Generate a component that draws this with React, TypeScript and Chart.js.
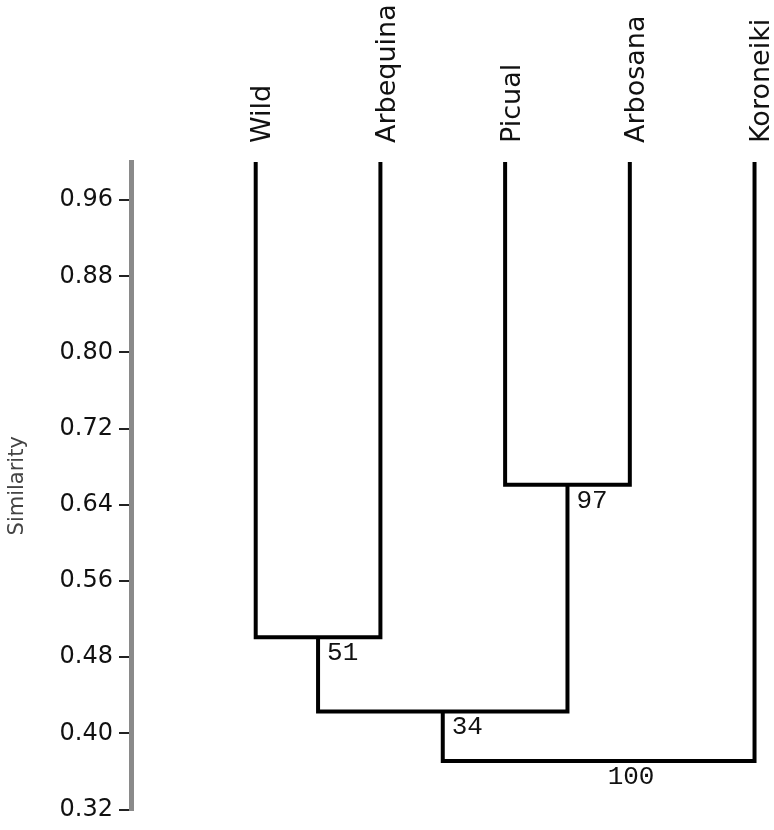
import React, { useEffect, useRef } from "react";
import { Chart, registerables } from "chart.js";

Chart.register(...registerables);

// ---- data ----
const leaves = ["Wild", "Arbequina", "Picual", "Arbosana", "Koroneiki"];
const leafSimilarity = 1.0;
// node ids: 0-4 leaves, 5.. merges in order
const mergeLeft = [0, 2, 5, 7];
const mergeRight = [1, 3, 6, 4];
const mergeSimilarity = [0.501, 0.661, 0.423, 0.371];
const bootstrapLabels = ["51", "97", "34", "100"];
const yTickValues = [0.32, 0.4, 0.48, 0.56, 0.64, 0.72, 0.8, 0.88, 0.96];
const yMin = 0.32;
const yMax = 1.0;

// derived node positions
const nodeX: number[] = leaves.map((_, i) => i);
const nodeY: number[] = leaves.map(() => leafSimilarity);
mergeLeft.forEach((l, k) => {
  const r = mergeRight[k];
  nodeX.push((nodeX[l] + nodeX[r]) / 2);
  nodeY.push(mergeSimilarity[k]);
});

const nodeLabelPlugin = {
  id: "nodeLabels",
  afterDatasetsDraw(chart: any) {
    const { ctx, scales } = chart;
    ctx.save();
    ctx.fillStyle = "#111";
    ctx.font = "26px 'Liberation Mono', monospace";
    ctx.textAlign = "left";
    ctx.textBaseline = "top";
    mergeLeft.forEach((_, k) => {
      const id = leaves.length + k;
      const px = scales.x.getPixelForValue(nodeX[id]) + 9;
      const py = scales.y.getPixelForValue(nodeY[id]) + 3;
      ctx.fillText(bootstrapLabels[k], px, py);
    });
    ctx.restore();
  },
};

export default function App() {
  const ref = useRef<HTMLCanvasElement | null>(null);
  useEffect(() => {
    if (!ref.current) return;
    const datasets = mergeLeft.map((l, k) => {
      const r = mergeRight[k];
      const h = mergeSimilarity[k];
      return {
        data: [
          { x: nodeX[l], y: nodeY[l] },
          { x: nodeX[l], y: h },
          { x: nodeX[r], y: h },
          { x: nodeX[r], y: nodeY[r] },
        ],
        showLine: true,
        borderColor: "#000",
        borderWidth: 4,
        borderJoinStyle: "miter" as const,
        pointRadius: 0,
        tension: 0,
      };
    });
    const chart = new Chart(ref.current, {
      type: "scatter",
      data: { datasets },
      options: {
        animation: false,
        responsive: true,
        maintainAspectRatio: false,
        layout: { padding: { top: 0, left: 0, right: 7, bottom: 16 } },
        plugins: { legend: { display: false }, tooltip: { enabled: false } },
        scales: {
          x: {
            type: "linear",
            position: "top",
            min: -1,
            max: 4.1,
            afterBuildTicks: (s: any) => {
              s.ticks = leaves.map((_, i) => ({ value: i }));
            },
            afterFit: (s: any) => {
              s.height = 162;
            },
            grid: { display: false, drawTicks: false },
            border: { display: false },
            ticks: {
              autoSkip: false,
              minRotation: 90,
              maxRotation: 90,
              padding: 19,
              labelOffset: 40,
              color: "#111",
              font: { family: "'DejaVu Sans'", size: 27 },
              callback: (v: any) => leaves[Math.round(Number(v))] ?? "",
            },
          },
          y: {
            type: "linear",
            min: yMin,
            max: yMax,
            afterBuildTicks: (s: any) => {
              s.ticks = yTickValues.map((v) => ({ value: v }));
            },
            afterFit: (s: any) => {
              s.width = 131;
            },
            grid: {
              drawOnChartArea: false,
              drawTicks: true,
              tickLength: 12,
              tickColor: "#222",
              lineWidth: 2,
            },
            border: { display: true, color: "#8a8a8a", width: 5 },
            ticks: {
              padding: 6,
              color: "#111",
              font: { family: "'DejaVu Sans'", size: 24 },
              callback: (v: any) => Number(v).toFixed(2),
            },
            title: {
              display: true,
              text: "Similarity",
              color: "#444",
              font: { family: "'DejaVu Sans'", size: 21 },
              padding: { top: 5, bottom: 0 },
            },
          },
        },
      },
      plugins: [nodeLabelPlugin],
    });
    return () => chart.destroy();
  }, []);
  return (
    <div style={{ position: "absolute", left: 0, top: 0, width: 774, height: 830 }}>
      <canvas ref={ref} />
    </div>
  );
}
